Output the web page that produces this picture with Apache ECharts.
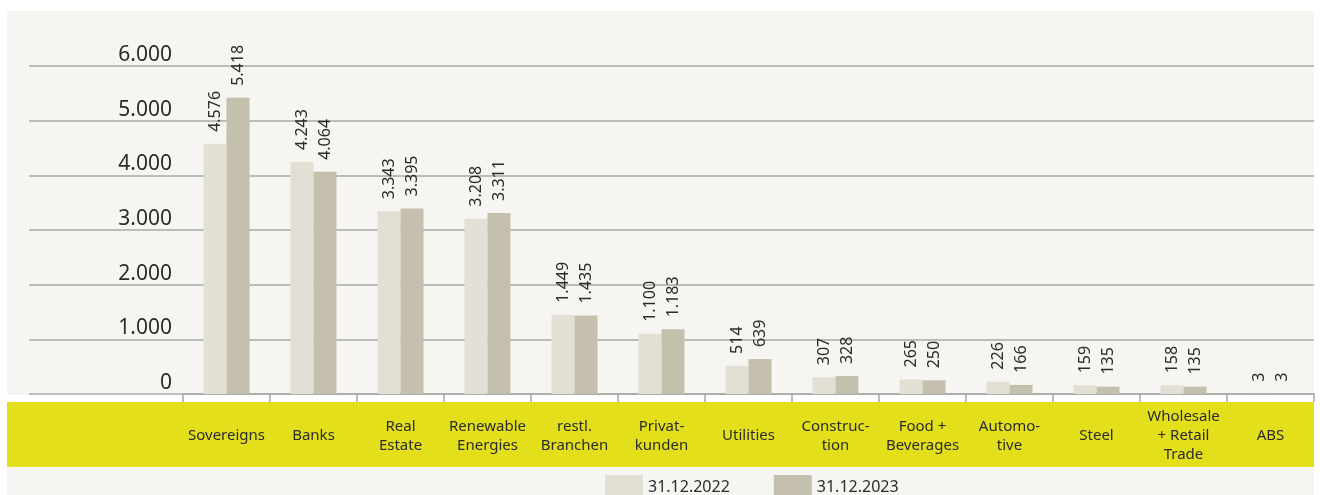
<!DOCTYPE html>
<html>
<head>
<meta charset="utf-8">
<script src="https://cdn.jsdelivr.net/npm/echarts@6/dist/echarts.min.js"></script>
<style>
html, body { margin: 0; padding: 0; background: #ffffff; }
#chart { width: 1320px; height: 495px; }
</style>
</head>
<body>
<div id="chart"></div>
<script>
const categories = ['Sovereigns', 'Banks', 'Real\nEstate', 'Renewable\nEnergies', 'restl.\nBranchen',
    'Privat-\nkunden', 'Utilities', 'Construc-\ntion', 'Food +\nBeverages', 'Automo-\ntive',
    'Steel', 'Wholesale\n+ Retail\nTrade', 'ABS'];
const values2022 = [4576, 4243, 3343, 3208, 1449, 1100, 514, 307, 265, 226, 159, 158, 3];
const values2023 = [5418, 4064, 3395, 3311, 1435, 1183, 639, 328, 250, 166, 135, 135, 3];
const seriesNames = ['31.12.2022', '31.12.2023'];
const yTicks = [0, 1000, 2000, 3000, 4000, 5000, 6000];

const fontName = 'Noto Sans';
const textColor = '#2b2b2b';
const lineColor = '#a8a8a8';

// Tausenderpunkt wie im Original
function fmt(v) {
    return String(v).replace(/\B(?=(\d{3})+(?!\d))/g, '.');
}

const chart = echarts.init(document.getElementById('chart'));

const valueLabel = {
    show: true,
    position: 'top',
    rotate: 90,
    align: 'left',
    verticalAlign: 'middle',
    distance: 12,
    fontFamily: fontName,
    fontSize: 16,
    color: textColor,
    formatter: p => fmt(p.value)
};

const option = {
    backgroundColor: '#ffffff',
    animation: false,
    graphic: [
        {type: 'rect', z: -10, shape: {x: 7, y: 11, width: 1307, height: 484}, style: {fill: '#f6f5f1'}},
        {type: 'rect', z: -9, shape: {x: 7, y: 395, width: 1307, height: 7}, style: {fill: '#ffffff'}},
        {type: 'rect', z: -9, shape: {x: 7, y: 402, width: 1307, height: 65}, style: {fill: '#e3e01b'}}
    ],
    legend: {
        left: 605,
        top: 475,
        padding: 0,
        itemWidth: 38,
        itemHeight: 24,
        itemGap: 44,
        icon: 'rect',
        textStyle: {fontFamily: fontName, fontSize: 16, color: textColor},
        data: seriesNames
    },
    grid: [
        {left: 29, right: 6, top: 66, bottom: 101},
        {left: 183, right: 6, top: 66, bottom: 101}
    ],
    xAxis: [
        {gridIndex: 0, type: 'value', show: false},
        {
            gridIndex: 1,
            type: 'category',
            data: categories,
            axisLine: {lineStyle: {color: lineColor, width: 1.5}},
            axisTick: {show: true, length: 8, lineStyle: {color: lineColor, width: 1.5}},
            axisLabel: {
                interval: 0,
                margin: 42,
                verticalAlign: 'middle',
                fontFamily: fontName,
                fontSize: 15,
                lineHeight: 19,
                color: textColor
            }
        }
    ],
    yAxis: [
        {
            gridIndex: 0,
            type: 'value',
            min: 0,
            max: 6000,
            interval: 1000,
            axisLine: {show: false},
            axisTick: {show: false},
            axisLabel: {show: false},
            splitLine: {lineStyle: {color: lineColor, width: 1.5}}
        },
        {
            gridIndex: 1,
            type: 'value',
            min: yTicks[0],
            max: yTicks[yTicks.length - 1],
            interval: 1000,
            axisLine: {show: false},
            axisTick: {show: false},
            splitLine: {show: false},
            axisLabel: {
                margin: 11,
                verticalAlign: 'bottom',
                lineHeight: 22,
                fontFamily: fontName,
                fontSize: 21,
                color: textColor,
                formatter: v => fmt(v)
            }
        }
    ],
    series: [
        {
            name: seriesNames[0],
            type: 'bar',
            xAxisIndex: 1,
            yAxisIndex: 1,
            data: values2022,
            barWidth: 23,
            barGap: '0%',
            itemStyle: {color: '#e2e0d5'},
            label: valueLabel
        },
        {
            name: seriesNames[1],
            type: 'bar',
            xAxisIndex: 1,
            yAxisIndex: 1,
            data: values2023,
            barWidth: 23,
            barGap: '0%',
            itemStyle: {color: '#c5c0ad'},
            label: valueLabel
        }
    ]
};

chart.setOption(option);

window.addEventListener('resize', function () {
    chart.resize();
});
</script>
</body>
</html>
